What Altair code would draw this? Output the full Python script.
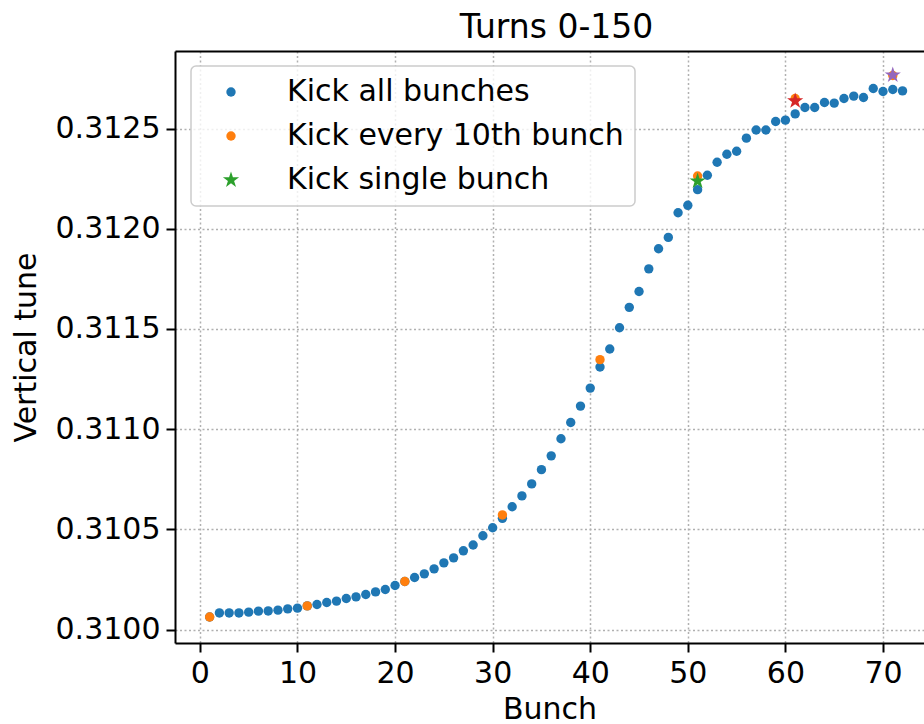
import altair as alt
import pandas as pd

FONT = "DejaVu Sans"

# Bunch index along the train
bunch = list(range(1, 73))

# Vertical tune per bunch, all bunches kicked
tune_all = [
    0.310063, 0.310083, 0.310083, 0.310083, 0.310087, 0.310092, 0.310093, 0.310097,
    0.310103, 0.310107, 0.310118, 0.310125, 0.310135, 0.310142, 0.310155, 0.310163,
    0.310175, 0.310188, 0.310200, 0.310220, 0.310240, 0.310260, 0.310278, 0.310303,
    0.310333, 0.310358, 0.310393, 0.310422, 0.310468, 0.310508, 0.310555, 0.310613,
    0.310667, 0.310727, 0.310798, 0.310867, 0.310952, 0.311033, 0.311115, 0.311205,
    0.311310, 0.311400, 0.311506, 0.311608, 0.311687, 0.311800, 0.311900, 0.311957,
    0.312080, 0.312117, 0.312195, 0.312267, 0.312332, 0.312372, 0.312387, 0.312452,
    0.312493, 0.312493, 0.312535, 0.312542, 0.312573, 0.312605, 0.312605, 0.312630,
    0.312627, 0.312650, 0.312662, 0.312655, 0.312700, 0.312685, 0.312695, 0.312688,
]

# Every 10th bunch kicked
tenth_bunch = [1, 11, 21, 31, 41, 51, 61, 71]
tune_tenth = [0.310063, 0.310118, 0.310240, 0.310572, 0.311347, 0.312263, 0.312650, 0.312765]

# Single bunch kicked (one run per bunch)
single_bunch = [51, 61, 71]
tune_single = [0.312238, 0.312638, 0.312767]
single_colors = ["#2ca02c", "#d62728", "#9467bd"]

series_names = ["Kick all bunches", "Kick every 10th bunch", "Kick single bunch"]
series_colors = ["#1f77b4", "#ff7f0e", "#2ca02c"]

DOT_SIZE = 88
STAR_SIZE = 290

# Regular five-pointed star in the unit box
STAR = ("M0,-1L0.2245,-0.309L0.9511,-0.309L0.3633,0.118L0.5878,0.809L0,0.382"
        "L-0.5878,0.809L-0.3633,0.118L-0.9511,-0.309L-0.2245,-0.309Z")

rows = []
for b, t in zip(bunch, tune_all):
    rows.append({"bunch": b, "tune": t, "series": series_names[0]})
for b, t in zip(tenth_bunch, tune_tenth):
    rows.append({"bunch": b, "tune": t, "series": series_names[1]})
rows.append({"bunch": single_bunch[0], "tune": tune_single[0], "series": series_names[2]})
main_df = pd.DataFrame(rows)

extra_df = pd.DataFrame({
    "bunch": single_bunch[1:],
    "tune": tune_single[1:],
    "color": single_colors[1:],
})

x_scale = alt.Scale(domain=[-2.55, 74.2], nice=False, zero=False)
y_scale = alt.Scale(domain=[0.309933, 0.312887], nice=False, zero=False)
y_axis = alt.Axis(values=[0.3100, 0.3105, 0.3110, 0.3115, 0.3120, 0.3125],
                  format=".4f", title="Vertical tune", grid=True, titlePadding=14)

main = alt.Chart(main_df).mark_point(filled=True, opacity=1).encode(
    x=alt.X("bunch:Q", scale=x_scale,
            axis=alt.Axis(values=list(range(0, 80, 10)), title="Bunch", grid=True,
                          titlePadding=6)),
    y=alt.Y("tune:Q", scale=y_scale, axis=y_axis),
    color=alt.Color("series:N", scale=alt.Scale(domain=series_names, range=series_colors),
                    legend=alt.Legend(title=None)),
    shape=alt.Shape("series:N", scale=alt.Scale(domain=series_names,
                                                range=["circle", "circle", STAR]),
                    legend=alt.Legend(title=None)),
    size=alt.Size("series:N",
                  scale=alt.Scale(type="ordinal", domain=series_names,
                                  range=[DOT_SIZE, DOT_SIZE, STAR_SIZE]),
                  legend=alt.Legend(title=None)),
)

extra = alt.Chart(extra_df).mark_point(filled=True, opacity=1, shape=STAR, size=STAR_SIZE).encode(
    x=alt.X("bunch:Q", scale=x_scale,
            axis=alt.Axis(orient="top", labels=False, ticks=False, grid=False,
                          title=None, domain=True)),
    y=alt.Y("tune:Q", scale=y_scale, axis=y_axis),
    color=alt.Color("color:N", scale=None),
)

chart = alt.layer(main, extra).resolve_axis(x="independent").properties(
    width=749,
    height=592,
    autosize=alt.AutoSizeParams(type="none"),
    padding={"left": 175, "top": 51, "right": 0, "bottom": 81},
    title=alt.Title("Turns 0-150", anchor="middle", frame="group", dx=7, offset=6),
).configure_view(
    stroke=None,
).configure_axis(
    labelFont=FONT, labelFontSize=30, labelColor="black",
    titleFont=FONT, titleFontSize=30, titleFontWeight="normal", titleColor="black",
    domainColor="black", domainWidth=2,
    tickColor="black", tickWidth=2, tickSize=9,
    gridColor="#b0b0b0", gridDash=[2, 2.5], gridWidth=1.5,
    labelPadding=6,
).configure_legend(
    orient="none", legendX=16, legendY=15,
    fillColor="rgba(255,255,255,0.8)", strokeColor="#cccccc", strokeWidth=1.5,
    cornerRadius=5, padding=11,
    labelFont=FONT, labelFontSize=30, labelColor="black", labelLimit=0,
    symbolStrokeWidth=0, symbolOffset=14, labelOffset=41, rowPadding=14,
).configure_title(
    font=FONT, fontSize=33, fontWeight="normal", color="black",
)

chart.save("out.html", embed_options={"renderer": "svg", "actions": False})
